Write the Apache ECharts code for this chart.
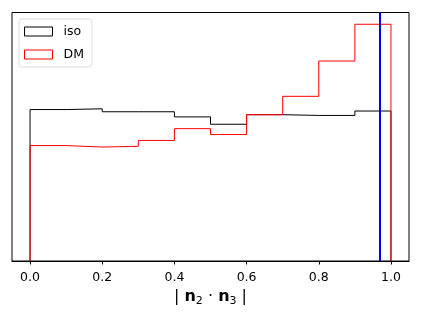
<!DOCTYPE html>
<html>
<head>
<meta charset="utf-8">
<script src="https://cdn.jsdelivr.net/npm/echarts@6/dist/echarts.min.js"></script>
<style>
  html, body { margin: 0; padding: 0; background: #fff; }
  #main { width: 421px; height: 316px; }
</style>
</head>
<body>
<div id="main"></div>
<script>
// histogram bins (density)
var binEdges = [0.0, 0.1, 0.2, 0.3, 0.4, 0.5, 0.6, 0.7, 0.8, 0.9, 1.0];
var isoValues = [1.03, 1.035, 1.015, 1.015, 0.98, 0.93, 0.995, 0.99, 0.99, 1.02];
var dmValues = [0.785, 0.775, 0.78, 0.82, 0.90, 0.86, 0.995, 1.12, 1.36, 1.61];
var xTicks = [0.0, 0.2, 0.4, 0.6, 0.8, 1.0];
var markerX = 0.97;

// build a closed step outline like histtype='step'
function stepData(vals)
{
    var pts = [[binEdges[0], 0]];
    for (var i = 0; i < vals.length; i++)
        pts.push([binEdges[i], vals[i]]);
    pts.push([binEdges[binEdges.length - 1], vals[vals.length - 1]]);
    pts.push([binEdges[binEdges.length - 1], 0]);
    return pts;
}

var myChart = echarts.init(document.getElementById('main'));
var font = 'DejaVu Sans';

var option = {
    animation: false,
    grid: {
        left: 12, right: 12, top: 12.5, bottom: 55,
        show: true, borderColor: '#000', borderWidth: 1
    },
    legend: {
        left: 19, top: 19,
        orient: 'vertical',
        itemWidth: 28, itemHeight: 9, itemGap: 10,
        padding: [6, 8, 6, 5],
        backgroundColor: '#fff',
        borderColor: '#dcdcdc', borderWidth: 1, borderRadius: 3,
        textStyle: { fontFamily: font, fontSize: 12.5, color: '#000', padding: [0, 0, 0, 6] },
        data: [
            { name: 'iso', icon: 'rect', itemStyle: { color: '#fff', borderColor: '#000', borderWidth: 1 } },
            { name: 'DM', icon: 'rect', itemStyle: { color: '#fff', borderColor: '#ff0000', borderWidth: 1 } }
        ]
    },
    xAxis: {
        type: 'value',
        min: -0.05, max: 1.05,
        splitLine: { show: false },
        axisLine: { show: true, lineStyle: { color: '#000' } },
        axisTick: { show: true, inside: false, length: 3.5, customValues: xTicks, lineStyle: { color: '#000' } },
        axisLabel: {
            customValues: xTicks, margin: 10,
            fontFamily: font, fontSize: 12.5, color: '#000',
            formatter: function (v) { return v.toFixed(1); }
        },
        name: '{t|| }{b|n}{s|2}{t| · }{b|n}{s|3}{t| |}',
        nameLocation: 'middle',
        nameGap: 21,
        nameTextStyle: {
            rich: {
                t: { fontFamily: font, fontSize: 16, color: '#000' },
                b: { fontFamily: font, fontSize: 16, fontWeight: 'bold', color: '#000' },
                s: { fontFamily: font, fontSize: 11, color: '#000', verticalAlign: 'bottom', padding: [8, 0, 0, 0] }
            }
        }
    },
    yAxis: {
        type: 'value',
        min: 0, max: 1.69,
        show: false
    },
    series: [
        {
            name: 'iso', type: 'line', step: 'end',
            data: stepData(isoValues),
            symbol: 'none',
            lineStyle: { color: '#000', width: 1 },
            itemStyle: { color: '#000' },
            markLine: {
                silent: true, symbol: 'none',
                label: { show: false },
                lineStyle: { color: '#0000ff', width: 2, type: 'solid' },
                data: [{ xAxis: markerX }]
            }
        },
        {
            name: 'DM', type: 'line', step: 'end',
            data: stepData(dmValues),
            symbol: 'none',
            lineStyle: { color: '#ff0000', width: 1 },
            itemStyle: { color: '#ff0000' }
        }
    ]
};
myChart.setOption(option);
</script>
</body>
</html>
